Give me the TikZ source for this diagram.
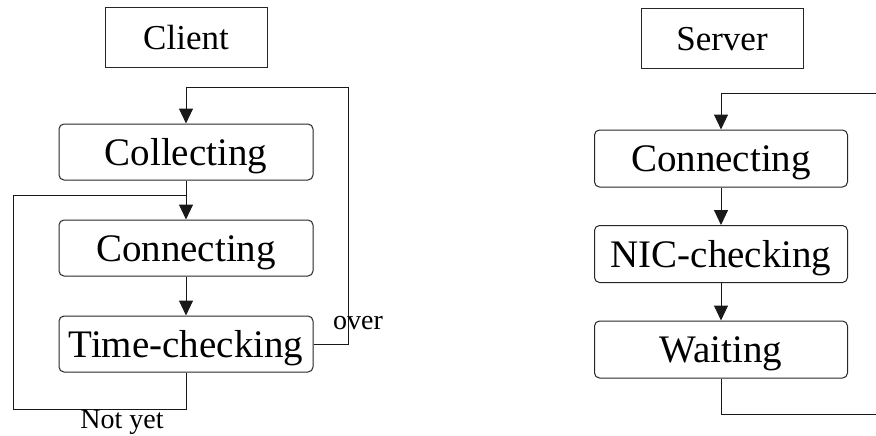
\documentclass[tikz,border=0pt]{standalone}
\usepackage{fontspec}
\setmainfont{Liberation Serif}
\usetikzlibrary{arrows.meta}
\tikzset{
  state/.style={draw=black!85, line width=1pt, rounded corners=5pt,
    minimum width=254pt, minimum height=56pt, inner sep=0pt,
    text height=26pt, text depth=0pt,
    font=\fontsize{39}{44}\selectfont},
  title/.style={draw=black!85, line width=1pt,
    minimum width=162pt, minimum height=60pt, inner sep=0pt,
    text height=23pt, text depth=0pt,
    font=\fontsize{35}{40}\selectfont},
  link/.style={line width=1pt, draw=black!90},
  flow/.style={link, -{Triangle[width=14pt,length=15pt]}},
  tag/.style={font=\fontsize{28}{32}\selectfont, inner sep=0pt}
}
\begin{document}
\begin{tikzpicture}[x=1pt, y=-1pt]
\useasboundingbox (0,0) rectangle (876,436);

% Client side
\node[title] (client) at (186,38) {Client};
\node[state] (coll) at (186,152) {Collecting};
\node[state] (cconn) at (186,248) {Connecting};
\node[state] (tc) at (186,344) {Time-checking};

\coordinate (join) at (186,195);
\coordinate (overc) at (348,88);
\coordinate (notc) at (13,409);

\draw[flow] (coll.south) -- (cconn.north);
\draw[flow] (cconn.south) -- (tc.north);
\draw[flow] (tc.east) -| (overc) -| (coll.north);
\draw[link] (tc.south) |- (notc) |- (join);

\node[tag] (over) at (358,323) {over};
\node[tag] (notyet) at (122,422) {Not yet};

% Server side
\node[title] (server) at (722,39) {Server};
\node[state, minimum width=253pt, minimum height=57pt] (sconn) at (721,158.5) {Connecting};
\node[state, minimum width=253pt, minimum height=57pt] (nic) at (721,254) {NIC-checking};
\node[state, minimum width=253pt, minimum height=57pt] (wait) at (721,349.5) {Waiting};

\coordinate (rtop) at (876,94);
\coordinate (rbot) at (876,414);

\draw[flow] (rtop) -| (sconn.north);
\draw[flow] (sconn.south) -- (nic.north);
\draw[flow] (nic.south) -- (wait.north);
\draw[link] (wait.south) |- (rbot);
\end{tikzpicture}
\end{document}
